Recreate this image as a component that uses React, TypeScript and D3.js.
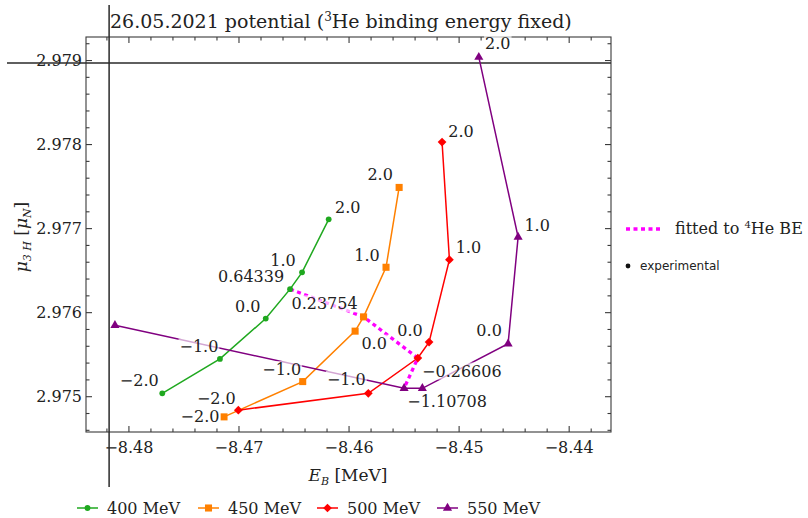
import React, { useEffect, useRef } from "react";
import * as d3 from "d3";

const W = 808;
const H = 518;

const seriesNames = ["400 MeV", "450 MeV", "500 MeV", "550 MeV"];
const seriesColors = ["#1fa81f", "#ff8000", "#ff0000", "#800080"];
const seriesSymbols = ["circle", "square", "diamond", "triangle"];

// E_B [MeV] / mu_3H [mu_N] / point labels
const eb400 = [-8.47697, -8.47173, -8.46757, -8.46536, -8.46427, -8.46185];
const mu400 = [2.97504, 2.97545, 2.97593, 2.97628, 2.97648, 2.97711];
const lab400 = ["−2.0", "−1.0", "0.0", "0.64339", "1.0", "2.0"];

const eb450 = [-8.47136, -8.46421, -8.45945, -8.45868, -8.45664, -8.45545];
const mu450 = [2.97476, 2.97518, 2.97578, 2.97595, 2.97654, 2.97749];
const lab450 = ["−2.0", "−1.0", "0.0", "0.23754", "1.0", "2.0"];

const eb500 = [-8.47006, -8.45825, -8.45375, -8.45273, -8.45088, -8.45155];
const mu500 = [2.97484, 2.97504, 2.97546, 2.97565, 2.97663, 2.97803];
const lab500 = ["−2.0", "−1.0", "−0.26606", "0.0", "1.0", "2.0"];

const eb550 = [-8.48127, -8.455, -8.45334, -8.44555, -8.44464, -8.44821];
const mu550 = [2.97585, 2.9751, 2.9751, 2.97563, 2.9769, 2.97904];
const lab550 = ["", "−1.10708", "", "0.0", "1.0", "2.0"];

// fitted to 4He BE: which point of each series
const fitIndex = [3, 3, 2, 1];

const expEB = -8.4818;
const expMu = 2.97897;

const xMajor = [-8.48, -8.47, -8.46, -8.45, -8.44];
const yMajor = [2.975, 2.976, 2.977, 2.978, 2.979];

// label offsets in px (layout only)
const off400 = [[-23, -13], [-21, -12], [-18, -12], [-39, -13], [-19, -12], [19, -12]];
const off450 = [[-24, 0], [-21, -12], [19, 12], [-39, -13], [-19, -12], [-19, -13]];
const off500 = [[-22, -12], [-22, -14], [44, 13], [-19, -12], [19, -12], [19, -11]];
const off550 = [[0, 0], [43, 13], [0, 0], [-19, -13], [19, -12], [19, -14]];

const SERIF = "DejaVu Serif";

function symbolPath(kind: string) {
  if (kind === "circle") return d3.symbol(d3.symbolCircle, 26)();
  if (kind === "square") return d3.symbol(d3.symbolSquare, 50)();
  if (kind === "diamond") return d3.symbol(d3.symbolSquare, 38)();
  return d3.symbol(d3.symbolTriangle, 36)();
}

const App = () => {
  const svgRef = useRef<SVGSVGElement>(null);

  useEffect(() => {
    const svg = d3.select(svgRef.current);
    svg.selectAll("*").remove();

    const x = d3.scaleLinear().domain([-8.4839, -8.4362]).range([86, 611]);
    const y = d3.scaleLinear().domain([2.97458, 2.97928]).range([432, 37]);
    const [x0, x1] = x.range();
    const [y0, y1] = y.range();

    const series = [
      { eb: eb400, mu: mu400, lab: lab400, off: off400 },
      { eb: eb450, mu: mu450, lab: lab450, off: off450 },
      { eb: eb500, mu: mu500, lab: lab500, off: off500 },
      { eb: eb550, mu: mu550, lab: lab550, off: off550 },
    ];

    // frame + ticks
    const fr = svg.append("g").attr("stroke", "#3a3a3a").attr("stroke-width", 1.1);
    fr.append("rect")
      .attr("x", x0).attr("y", y1)
      .attr("width", x1 - x0).attr("height", y0 - y1)
      .attr("fill", "none");
    const xMinor = d3.range(-8.482, -8.4365, 0.002);
    const yMinor = d3.range(2.9746, 2.9793, 0.0002);
    const isMajX = (v: number) => xMajor.some((m) => Math.abs(m - v) < 1e-6);
    const isMajY = (v: number) => yMajor.some((m) => Math.abs(m - v) < 1e-7);
    xMinor.forEach((v) => {
      const len = isMajX(v) ? 6 : 3.5;
      fr.append("line").attr("x1", x(v)).attr("x2", x(v)).attr("y1", y0).attr("y2", y0 - len);
      fr.append("line").attr("x1", x(v)).attr("x2", x(v)).attr("y1", y1).attr("y2", y1 + len);
    });
    yMinor.forEach((v) => {
      const len = isMajY(v) ? 6 : 3.5;
      fr.append("line").attr("y1", y(v)).attr("y2", y(v)).attr("x1", x0).attr("x2", x0 + len);
      fr.append("line").attr("y1", y(v)).attr("y2", y(v)).attr("x1", x1).attr("x2", x1 - len);
    });

    const tickFmtX = (v: number) => d3.format(".2f")(v).replace("-", "−");
    svg.append("g")
      .selectAll("text")
      .data(xMajor)
      .join("text")
      .attr("x", (d) => x(d))
      .attr("y", 453)
      .attr("text-anchor", "middle")
      .style("font-family", SERIF)
      .style("font-size", "16px")
      .attr("fill", "#222")
      .text(tickFmtX);
    svg.append("g")
      .selectAll("text")
      .data(yMajor)
      .join("text")
      .attr("x", 82)
      .attr("y", (d) => y(d) + 5.5)
      .attr("text-anchor", "end")
      .style("font-family", SERIF)
      .style("font-size", "16px")
      .attr("fill", "#222")
      .text((d) => d3.format(".3f")(d));

    // experimental lines
    svg.append("line")
      .attr("x1", x(expEB)).attr("x2", x(expEB)).attr("y1", 5).attr("y2", 487)
      .attr("stroke", "#2a2a2a").attr("stroke-width", 1.5);
    svg.append("line")
      .attr("x1", 7).attr("x2", x1).attr("y1", y(expMu)).attr("y2", y(expMu))
      .attr("stroke", "#2a2a2a").attr("stroke-width", 1.5);

    const line = d3.line<number>().x((_, i) => 0).y(() => 0);
    void line;

    // series lines
    series.forEach((s, k) => {
      const pts = s.eb.map((e, i) => [x(e), y(s.mu[i])] as [number, number]);
      svg.append("path")
        .attr("d", d3.line()(pts))
        .attr("fill", "none")
        .attr("stroke", seriesColors[k])
        .attr("stroke-width", 1.5);
    });

    // fitted line
    const fitPts = series.map((s, k) => [x(s.eb[fitIndex[k]]), y(s.mu[fitIndex[k]])] as [number, number]);
    svg.append("path")
      .attr("d", d3.line()(fitPts))
      .attr("fill", "none")
      .attr("stroke", "#ff00ff")
      .attr("stroke-width", 3.3)
      .attr("stroke-dasharray", "4,3.5");

    // markers
    series.forEach((s, k) => {
      s.eb.forEach((e, i) => {
        const rot = seriesSymbols[k] === "diamond" ? " rotate(45)" : "";
        svg.append("path")
          .attr("d", symbolPath(seriesSymbols[k]))
          .attr("transform", `translate(${x(e)},${y(s.mu[i])})${rot}`)
          .attr("fill", seriesColors[k]);
      });
    });

    // point labels with translucent background
    const lg = svg.append("g");
    series.forEach((s) => {
      s.eb.forEach((e, i) => {
        if (!s.lab[i]) return;
        const g = lg.append("g");
        const t = g.append("text")
          .attr("x", x(e) + s.off[i][0])
          .attr("y", y(s.mu[i]) + s.off[i][1] + 5.5)
          .attr("text-anchor", "middle")
          .style("font-family", SERIF)
          .style("font-size", "16px")
          .attr("fill", "#222")
          .text(s.lab[i]);
        const bb = (t.node() as SVGTextElement).getBBox();
        g.insert("rect", "text")
          .attr("x", bb.x - 1).attr("y", bb.y + 1)
          .attr("width", bb.width + 2).attr("height", bb.height - 2)
          .attr("fill", "#fff").attr("opacity", 0.65);
      });
    });

    // title
    const title = svg.append("text")
      .attr("x", 110).attr("y", 28)
      .style("font-family", SERIF)
      .style("font-size", "19px")
      .attr("fill", "#222");
    title.append("tspan").text("26.05.2021 potential (");
    title.append("tspan").attr("dy", -7).style("font-size", "12px").text("3");
    title.append("tspan").attr("dy", 7).text("He binding energy fixed)");

    // axis labels
    const xl = svg.append("text")
      .attr("x", 348).attr("y", 481)
      .attr("text-anchor", "middle")
      .style("font-family", SERIF)
      .style("font-size", "17px")
      .attr("fill", "#222");
    xl.append("tspan").style("font-style", "italic").text("E");
    xl.append("tspan").attr("dy", 4).style("font-style", "italic").style("font-size", "11px").text("B");
    xl.append("tspan").attr("dy", -4).text(" [MeV]");

    const yl = svg.append("text")
      .attr("transform", "translate(27,237) rotate(-90)")
      .attr("text-anchor", "middle")
      .style("font-family", SERIF)
      .style("font-size", "17px")
      .attr("fill", "#222");
    yl.append("tspan").style("font-style", "italic").text("μ");
    yl.append("tspan").attr("dy", 4).style("font-style", "italic").style("font-size", "11px").text("3 H");
    yl.append("tspan").attr("dy", -4).text(" [");
    yl.append("tspan").style("font-style", "italic").text("μ");
    yl.append("tspan").attr("dy", 4).style("font-style", "italic").style("font-size", "11px").text("N");
    yl.append("tspan").attr("dy", -4).text("]");

    // right legend
    svg.append("line")
      .attr("x1", 626).attr("x2", 663).attr("y1", 229).attr("y2", 229)
      .attr("stroke", "#ff00ff").attr("stroke-width", 3.3).attr("stroke-dasharray", "4,3.5");
    const ft = svg.append("text")
      .attr("x", 675).attr("y", 234)
      .style("font-family", SERIF)
      .style("font-size", "16px")
      .attr("fill", "#222");
    ft.append("tspan").text("fitted to ");
    ft.append("tspan").attr("dy", -6).style("font-size", "10px").text("4");
    ft.append("tspan").attr("dy", 6).text("He BE");
    svg.append("circle").attr("cx", 628).attr("cy", 266).attr("r", 2.4).attr("fill", "#111");
    svg.append("text")
      .attr("x", 640).attr("y", 270)
      .style("font-family", "DejaVu Sans")
      .style("font-size", "12px")
      .attr("fill", "#222")
      .text("experimental");

    // bottom legend
    const legX = [77, 198, 317, 437];
    const leg = svg.append("g");
    seriesNames.forEach((name, k) => {
      const lx = legX[k];
      leg.append("line")
        .attr("x1", lx).attr("x2", lx + 21).attr("y1", 508).attr("y2", 508)
        .attr("stroke", seriesColors[k]).attr("stroke-width", 1.5);
      const rot = seriesSymbols[k] === "diamond" ? " rotate(45)" : "";
      leg.append("path")
        .attr("d", symbolPath(seriesSymbols[k]))
        .attr("transform", `translate(${lx + 10.5},508)${rot}`)
        .attr("fill", seriesColors[k]);
      leg.append("text")
        .attr("x", lx + 30).attr("y", 513.5)
        .style("font-family", SERIF)
        .style("font-size", "16px")
        .attr("fill", "#222")
        .text(name);
    });
  }, []);

  return (
    <svg
      ref={svgRef}
      width={W}
      height={H}
      style={{ position: "absolute", left: 0, top: 0, background: "#fff" }}
    />
  );
};

export default App;
